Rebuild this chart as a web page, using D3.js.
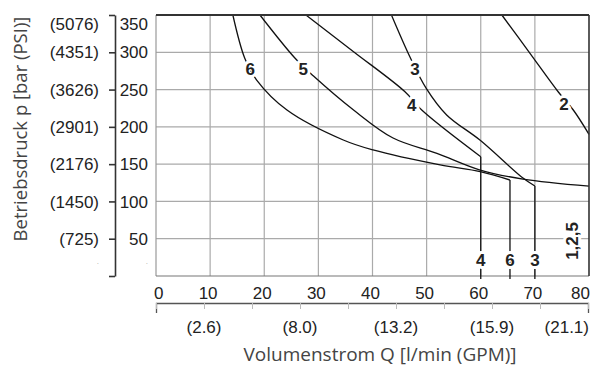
<!DOCTYPE html>
<html lang="de">
<head>
<meta charset="UTF-8">
<title>Betriebsdruck / Volumenstrom</title>
<script src="https://cdn.jsdelivr.net/npm/d3@7/dist/d3.min.js"></script>
<style>
  body { margin: 0; background: #fff; }
  .tick-label { font-family: "Liberation Sans Narrow", "Arial Narrow", "Liberation Sans", sans-serif; font-size: 17px; fill: #222; }
  .axis-title { font-family: "Open Sans", sans-serif; fill: #444; }
  .curve-label { font-family: "Liberation Sans", Arial, sans-serif; font-weight: bold; font-size: 17px; fill: #222;
                 stroke: #fff; stroke-width: 6px; paint-order: stroke; stroke-linejoin: round; }
</style>
</head>
<body>
<div id="chart"></div>
<script>
// tick values and labels
const barTicks = [0, 50, 100, 150, 200, 250, 300, 350];
const barLabels = [".", "50", "100", "150", "200", "250", "300", "350"];
const psiLabels = [".", "(725)", "(1450)", "(2176)", "(2901)", "(3626)", "(4351)", "(5076)"];
const flowTicks = [0, 10, 20, 30, 40, 50, 60, 70, 80];
const gpmTickCount = 9; // intervals on lower axis
const gpmLabels = [[1, "(2.6)"], [3, "(8.0)"], [5, "(13.2)"], [7, "(15.9)"], [9, "(21.1)"]];

// curves: Q [l/min], p [bar]
const curve6Q = [14.2, 16.4, 18.6, 24.2, 34.6, 40.1, 52.5, 59.9, 65.4];
const curve6P = [350, 292, 262.8, 222.6, 182.4, 169, 148.9, 139.9, 128.7];
const curve5Q = [19.2, 25.7, 29.1, 36.5, 43.8, 51.9, 59.9, 67.8, 80];
const curve5P = [350, 292, 268.2, 222.6, 185, 164.5, 142.1, 130, 120.5];
const curve4Q = [27.7, 36.5, 46, 49.1, 60];
const curve4P = [350, 300.8, 247.1, 222.6, 160];
const curve3Q = [43.5, 46.9, 49.9, 53.7, 59.9, 67.8, 70];
const curve3P = [350, 294, 252, 216, 182, 131.4, 120.7];
const curve2Q = [63.9, 69.1, 74.3, 77.1, 80];
const curve2P = [350, 298.6, 247.1, 222.6, 190];

// curve labels (on the curve) and cut-off labels
const labelText = ["6", "5", "4", "3", "2"];
const labelQ = [17.4, 27.2, 47.25, 47.85, 75.4];
const labelP = [277.6, 277.6, 229.3, 277.6, 230.6];
const cutoffText = ["4", "6", "3"];
const cutoffQ = [60, 65.4, 70];
const cutoffP = [160, 128.7, 120.7];

const width = 592, height = 367;
const margin = { top: 15, right: 3, bottom: 91, left: 156 };

const svg = d3.select("#chart").append("svg")
    .attr("width", width)
    .attr("height", height);

const x = d3.scaleLinear().domain([0, 80]).range([margin.left, width - margin.right]);
const y = d3.scaleLinear().domain([0, 350]).range([height - margin.bottom, margin.top]);

// grid
svg.append("g").selectAll("line")
    .data(flowTicks.slice(1, -1))
    .join("line")
    .attr("x1", d => x(d)).attr("x2", d => x(d))
    .attr("y1", y(0)).attr("y2", y(350))
    .attr("stroke", "#aaa").attr("stroke-width", 1.2);
svg.append("g").selectAll("line")
    .data(barTicks.slice(1, -1))
    .join("line")
    .attr("x1", x(0)).attr("x2", x(80))
    .attr("y1", d => y(d)).attr("y2", d => y(d))
    .attr("stroke", "#aaa").attr("stroke-width", 1.2);

// frame
svg.append("line").attr("x1", x(0)).attr("x2", x(0)).attr("y1", y(0)).attr("y2", y(350))
    .attr("stroke", "#999").attr("stroke-width", 1.2);
svg.append("line").attr("x1", x(0)).attr("x2", x(80)).attr("y1", y(0)).attr("y2", y(0))
    .attr("stroke", "#777").attr("stroke-width", 1.2);

// curves
const line = d3.line()
    .x(d => x(d[0]))
    .y(d => y(d[1]))
    .curve(d3.curveCatmullRom.alpha(0.5));

const curves = [[curve6Q, curve6P], [curve5Q, curve5P], [curve4Q, curve4P], [curve3Q, curve3P], [curve2Q, curve2P]];
svg.append("g").selectAll("path")
    .data(curves)
    .join("path")
    .attr("d", c => line(c[0].map((q, i) => [q, c[1][i]])))
    .attr("fill", "none")
    .attr("stroke", "#111")
    .attr("stroke-width", 1.3);

// vertical cut-offs
svg.append("g").selectAll("line")
    .data(cutoffQ)
    .join("line")
    .attr("x1", d => x(d)).attr("x2", d => x(d))
    .attr("y1", (d, i) => y(cutoffP[i]))
    .attr("y2", y(0) + 3)
    .attr("stroke", "#111")
    .attr("stroke-width", 1.3);

// right and top border drawn above the curves
svg.append("line").attr("x1", x(80)).attr("x2", x(80)).attr("y1", y(0)).attr("y2", y(350))
    .attr("stroke", "#333").attr("stroke-width", 1.6);
svg.append("line").attr("x1", x(0)).attr("x2", x(80)).attr("y1", y(350)).attr("y2", y(350))
    .attr("stroke", "#333").attr("stroke-width", 2);

// curve labels
svg.append("g").selectAll("text")
    .data(labelText)
    .join("text")
    .attr("class", "curve-label")
    .attr("x", (d, i) => x(labelQ[i]))
    .attr("y", (d, i) => y(labelP[i]))
    .attr("dy", "0.36em")
    .attr("text-anchor", "middle")
    .text(d => d);

svg.append("g").selectAll("text")
    .data(cutoffText)
    .join("text")
    .attr("class", "curve-label")
    .attr("x", (d, i) => x(cutoffQ[i]))
    .attr("y", y(21.5))
    .attr("dy", "0.36em")
    .attr("text-anchor", "middle")
    .text(d => d);

svg.append("text")
    .attr("class", "curve-label")
    .attr("transform", `translate(${x(76.8)},${y(47)}) rotate(-90)`)
    .attr("dy", "0.36em")
    .attr("text-anchor", "middle")
    .text("1,2,5");

// left axis (bracket)
const axisX = 115;
svg.append("g")
    .attr("transform", `translate(${axisX},0)`)
    .call(d3.axisLeft(y).tickValues(barTicks).tickSize(6).tickSizeOuter(0).tickFormat(""))
    .call(g => g.select(".domain").attr("stroke", "#333").attr("stroke-width", 1.6))
    .call(g => g.selectAll(".tick line").attr("stroke", "#333").attr("stroke-width", 1.6));

const labelY = d => d === 350 ? y(d) + 9 : (d === 0 ? y(d) - 15 : y(d));
svg.append("g").selectAll("text")
    .data(barTicks)
    .join("text")
    .attr("class", "tick-label")
    .attr("x", 148)
    .attr("y", d => labelY(d))
    .attr("dy", "0.36em")
    .attr("text-anchor", "end")
    .style("fill", d => d === 0 ? "#aaa" : null)
    .style("font-size", d => d === 0 ? "8px" : null)
    .text((d, i) => barLabels[i]);
svg.append("g").selectAll("text")
    .data(barTicks)
    .join("text")
    .attr("class", "tick-label")
    .attr("x", 99)
    .attr("y", d => labelY(d))
    .attr("dy", "0.36em")
    .attr("text-anchor", "end")
    .style("fill", d => d === 0 ? "#aaa" : null)
    .style("font-size", d => d === 0 ? "8px" : null)
    .text((d, i) => psiLabels[i]);

svg.append("text")
    .attr("class", "axis-title")
    .attr("transform", `translate(20,129) rotate(-90)`)
    .attr("dy", "0.36em")
    .attr("text-anchor", "middle")
    .style("font-size", "18.5px")
    .text("Betriebsdruck p [bar (PSI)]");

// bottom: l/min labels
svg.append("g").selectAll("text")
    .data(flowTicks)
    .join("text")
    .attr("class", "tick-label")
    .attr("x", d => d === 0 ? x(d) - 2 : (d === 80 ? x(d) + 1 : x(d) - 2))
    .attr("y", 299)
    .attr("text-anchor", d => d === 0 ? "start" : (d === 80 ? "end" : "middle"))
    .text(d => d);

// GPM axis
const g = d3.scaleLinear().domain([0, gpmTickCount]).range([x(0), x(80) - 1]);
svg.append("g")
    .attr("transform", "translate(0,303)")
    .call(d3.axisBottom(g).ticks(gpmTickCount).tickSize(6).tickSizeOuter(10).tickFormat(""))
    .call(a => a.select(".domain").attr("stroke", "#555").attr("stroke-width", 1.3))
    .call(a => a.selectAll(".tick line").attr("stroke", "#bbb").attr("stroke-width", 1));
svg.append("g").selectAll("text")
    .data(gpmLabels)
    .join("text")
    .attr("class", "tick-label")
    .attr("x", d => d[0] === gpmTickCount ? g(d[0]) + 1 : g(d[0]))
    .attr("y", 333)
    .attr("text-anchor", d => d[0] === gpmTickCount ? "end" : "middle")
    .text(d => d[1]);

svg.append("text")
    .attr("class", "axis-title")
    .attr("x", 380)
    .attr("y", 361)
    .attr("text-anchor", "middle")
    .style("font-size", "19px")
    .text("Volumenstrom Q [l/min (GPM)]");
</script>
</body>
</html>
